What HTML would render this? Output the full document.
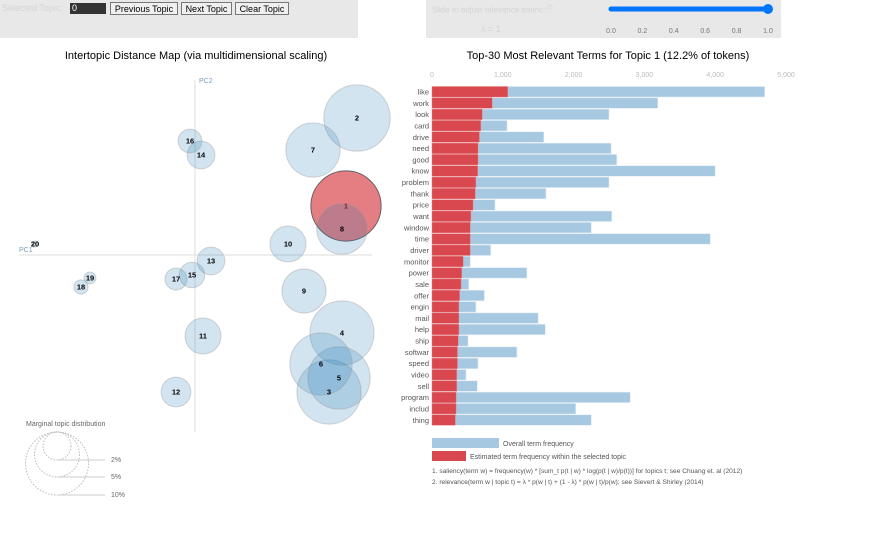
<!DOCTYPE html>
<html><head><meta charset="utf-8">
<style>
body{margin:0;width:871px;height:560px;background:#fff;font-family:"Liberation Sans",sans-serif;overflow:hidden;position:relative}
.panel{position:absolute;background:#e8e8e8}
.btn{position:absolute;top:2px;height:13px;border:1px solid #777;background:#f0f0f0;font-size:9px;line-height:12px;text-align:center;box-sizing:border-box;color:#000}
svg{position:absolute;left:0;top:0}
</style></head><body>
<div class="panel" style="left:0;top:0;width:358px;height:38px"></div>
<div style="position:absolute;left:2px;top:3px;font-size:9px;color:#d4d4d4">Selected Topic:</div>
<div style="position:absolute;left:70px;top:3px;width:36px;height:11px;background:#333;color:#fff;font-size:9px;line-height:11px;padding-left:2px;box-sizing:border-box">0</div>
<div class="btn" style="left:110px;width:68px">Previous Topic</div>
<div class="btn" style="left:181px;width:51px">Next Topic</div>
<div class="btn" style="left:235px;width:54px">Clear Topic</div>
<div class="panel" style="left:426px;top:0;width:355px;height:38px"></div>
<div style="position:absolute;left:432px;top:5px;font-size:8px;color:#d4d4d4">Slide to adjust relevance metric:<sup style="font-size:6px">(2)</sup></div>
<div style="position:absolute;left:481px;top:24px;font-size:9px;color:#d4d4d4">λ = 1</div>
<svg width="871" height="560" font-family="Liberation Sans, sans-serif">
  <g>
    <line x1="611" y1="9" x2="768" y2="9" stroke="#0075ff" stroke-width="5" stroke-linecap="round"/>
    <circle cx="768" cy="9" r="5" fill="#0075ff"/>
  </g>
  <g id="sliderTicks" font-size="7" fill="#777" text-anchor="middle"></g>
  <text x="196" y="59" font-size="11" text-anchor="middle" fill="#000">Intertopic Distance Map (via multidimensional scaling)</text>
  <text x="608" y="59" font-size="11" text-anchor="middle" fill="#000">Top-30 Most Relevant Terms for Topic 1 (12.2% of tokens)</text>
  <g stroke="#ddd" stroke-width="1">
    <line x1="195" y1="80" x2="195" y2="432"/>
    <line x1="19" y1="255" x2="372" y2="255"/>
  </g>
  <text x="199" y="83" font-size="7" fill="#7a9cc0">PC2</text>
  <text x="19" y="252" font-size="7" fill="#7a9cc0">PC1</text>
  <g id="bubbles"></g>
  <g id="bubbleLabels" font-size="7.5" font-weight="bold" text-anchor="middle"></g>
  <g>
    <text x="26" y="426" font-size="7" fill="#666">Marginal topic distribution</text>
    <g fill="none" stroke="#bbb" stroke-dasharray="1.5,1.5">
      <circle cx="57" cy="446" r="14"/><circle cx="57" cy="454.5" r="22.5"/><circle cx="57" cy="463.5" r="31.5"/>
    </g>
    <g stroke="#ccc"><line x1="57" y1="460" x2="105" y2="460"/><line x1="57" y1="477" x2="105" y2="477"/><line x1="57" y1="495" x2="105" y2="495"/></g>
    <g font-size="7" fill="#666"><text x="111" y="462">2%</text><text x="111" y="479">5%</text><text x="111" y="497">10%</text></g>
  </g>
  <g id="xTicks" font-size="7" fill="#bbb" text-anchor="middle"></g>
  <g id="bars"></g>
  <g id="terms" font-size="7.5" fill="#555" text-anchor="end"></g>
  <g>
    <rect x="432" y="438" width="67" height="10" fill="#a6c8e0"/>
    <rect x="432" y="451" width="34" height="10" fill="#d9474f"/>
    <text x="503" y="446" font-size="7" fill="#555">Overall term frequency</text>
    <text x="470" y="459" font-size="7" fill="#555">Estimated term frequency within the selected topic</text>
    <text x="432" y="473" font-size="6.6" fill="#555">1. saliency(term w) = frequency(w) * [sum_t p(t | w) * log(p(t | w)/p(t))] for topics t; see Chuang et. al (2012)</text>
    <text x="432" y="484" font-size="6.6" fill="#555">2. relevance(term w | topic t) = λ * p(w | t) + (1 - λ) * p(w | t)/p(w); see Sievert &amp; Shirley (2014)</text>
  </g>
</svg>
<script>
const sliderTickLabels=["0.0","0.2","0.4","0.6","0.8","1.0"];
const topicIds=[1,2,3,4,5,6,7,8,9,10,11,12,13,14,15,16,17,18,19,20];
const topicPC1=[0.151,0.162,0.134,0.147,0.144,0.126,0.118,0.147,0.109,0.093,0.008,-0.019,0.016,0.006,-0.003,-0.005,-0.019,-0.114,-0.105,-0.16];
const topicPC2=[0.049,0.137,-0.137,-0.078,-0.123,-0.109,0.105,0.026,-0.036,0.011,-0.081,-0.137,-0.006,0.1,-0.02,0.114,-0.024,-0.032,-0.023,0.011];
const topicSize=[12.2,10.9,10.2,10.2,9.6,9.6,7.3,6.3,4.8,3.2,3.2,2.2,1.9,1.9,1.6,1.4,1.2,0.5,0.35,0.1];
const terms=["like","work","look","card","drive","need","good","know","problem","thank","price","want","window","time","driver","monitor","power","sale","offer","engin","mail","help","ship","softwar","speed","video","sell","program","includ","thing"];
const overallFreq=[4700,3190,2500,1060,1580,2530,2610,4000,2500,1610,890,2540,2250,3930,830,540,1340,520,740,620,1500,1600,510,1200,650,480,640,2800,2030,2250];
const topicFreq=[1070,850,710,690,670,650,650,645,620,610,580,550,540,540,540,440,420,410,390,380,380,380,370,360,360,350,350,340,340,330];
const xTickValues=[0,1000,2000,3000,4000,5000];
const xTickLabels=["0","1,000","2,000","3,000","4,000","5,000"];
const NS="http://www.w3.org/2000/svg";
function mk(t,a,p){const e=document.createElementNS(NS,t);for(const k in a)e.setAttribute(k,a[k]);p.appendChild(e);return e;}
const st=document.getElementById('sliderTicks');
sliderTickLabels.forEach((l,i)=>{const t=mk('text',{x:611+i*31.4,y:33},st);t.textContent=l;

});
const sx=v=>195+v*1000, sy=v=>255-v*1000;
const sr=s=>Math.sqrt(s)*10.05;
const bg=document.getElementById('bubbles'), bl=document.getElementById('bubbleLabels');
topicIds.forEach((id,i)=>{
  const sel=id===1;
  const c=mk('circle',{cx:sx(topicPC1[i]),cy:sy(topicPC2[i]),r:sr(topicSize[i]),fill:sel?'#d9474f':'#1f77b4','fill-opacity':sel?0.7:0.2,stroke:sel?'#555':'#999','stroke-opacity':sel?0.9:0.4,'stroke-width':1},bg);
  
  
  const t=mk('text',{x:sx(topicPC1[i]),y:sy(topicPC2[i])+2.6,fill:sel?'#7a2a2a':'#000'},bl);t.textContent=id;
  
  
});
const bx=v=>432+v*0.0708, rowH=11.32, y0=86.5;
const xt=document.getElementById('xTicks');
xTickValues.forEach((v,i)=>{const t=mk('text',{x:bx(v),y:77},xt);t.textContent=xTickLabels[i];

});
const bars=document.getElementById('bars'), tg=document.getElementById('terms');
terms.forEach((w,i)=>{
  const y=y0+i*rowH;
  const b=mk('rect',{x:432,y:y,width:bx(overallFreq[i])-432,height:rowH-0.8,fill:'#a6c8e0',stroke:'#e0ecf5','stroke-width':0.6},bars);
  
  
  const r=mk('rect',{x:432,y:y,width:bx(topicFreq[i])-432,height:rowH-0.8,fill:'#d9474f',stroke:'#e88','stroke-width':0.4},bars);
  
  
  const t=mk('text',{x:429,y:y+8},tg);t.textContent=w;
  
  
});
</script>
</body></html>
